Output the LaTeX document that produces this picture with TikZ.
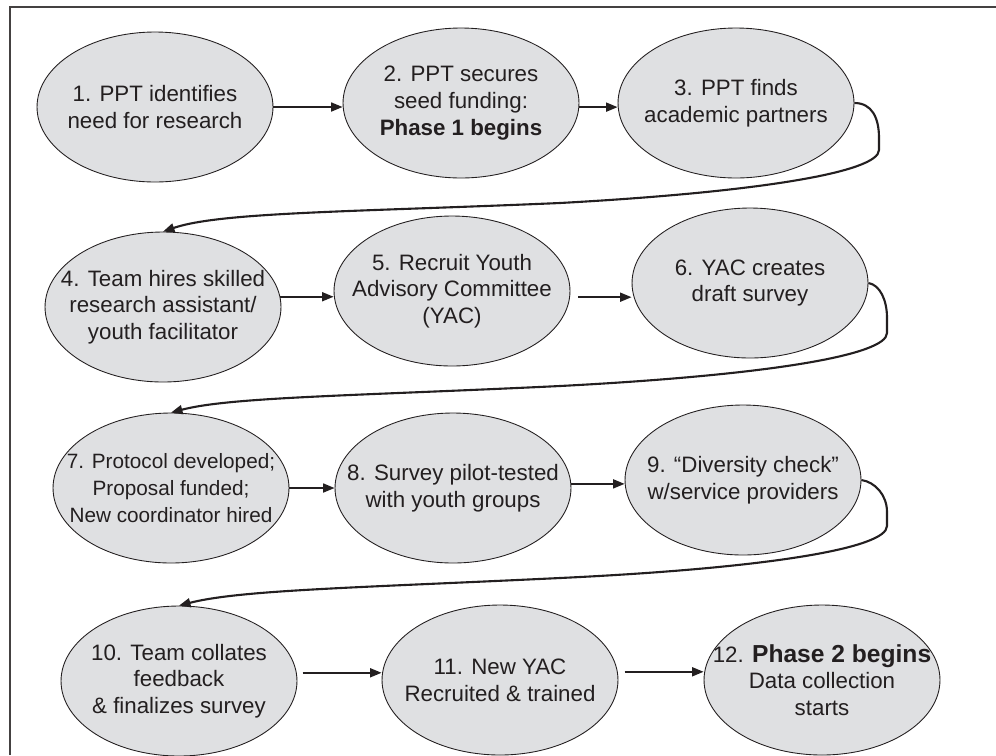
\documentclass[tikz,border=0pt]{standalone}
\usepackage{fontspec}
\setmainfont{Liberation Sans}
\usetikzlibrary{shapes.geometric,arrows.meta}
\definecolor{stagegray}{RGB}{223,224,226}
\definecolor{inkgray}{RGB}{35,31,32}
\begin{document}
\begin{tikzpicture}[x=0.02cm,y=-0.02cm,
  stage/.style={ellipse,draw=inkgray,line width=0.5pt,fill=stagegray,
    minimum width=4.72cm,minimum height=3cm,inner sep=0pt},
  txt/.style={align=center,text=inkgray,inner sep=0pt,
    font=\fontsize{12.7}{15.2}\selectfont},
  flow/.style={-{Triangle[length=2.3mm,width=1.8mm]},line width=1pt,draw=inkgray},
  wrap/.style={flow,line width=1.2pt}]
  \useasboundingbox (0,0) rectangle (996,755);
  \draw[line width=1pt,draw=inkgray!85] (10,755) |- (996,7);
  \node[stage,label={[txt]center:{1. PPT identifies\\need for research}}] (s1) at (155,107) {};
  \node[stage,label={[txt]center:{2. PPT secures\\seed funding:\\\textbf{Phase 1 begins}}}] (s2) at (461,103) {};
  \node[stage,label={[txt]center:{3. PPT finds\\academic partners}}] (s3) at (736,103) {};
  \node[stage,label={[txt]center:{4. Team hires skilled\\research assistant/\\youth facilitator}}] (s4) at (163,307) {};
  \node[stage,label={[txt]center:{5. Recruit Youth\\Advisory Committee\\(YAC)}}] (s5) at (452,291) {};
  \node[stage,label={[txt]center:{6. YAC creates\\draft survey}}] (s6) at (750,283) {};
  \node[stage,label={[txt,font=\fontsize{11.8}{15.2}\selectfont]center:{7. Protocol developed;\\Proposal funded;\\New coordinator hired}}] (s7) at (171,488) {};
  \node[stage,label={[txt]center:{8. Survey pilot-tested\\with youth groups}}] (s8) at (453,488) {};
  \node[stage,label={[txt]center:{9. “Diversity check”\\w/service providers}}] (s9) at (743,480) {};
  \node[stage,label={[txt]center:{10. Team collates\\feedback\\\& finalizes survey}}] (s10) at (179,681) {};
  \node[stage,label={[txt]center:{11. New YAC\\Recruited \& trained}}] (s11) at (500,680) {};
  \node[stage,label={[txt]center:{12. {\fontsize{14}{15.2}\selectfont\bfseries Phase 2 begins}\\Data collection\\starts}}] (s12) at (822,680) {};
  \draw[flow] (s1.east) -- (s1.east -| s2.west);
  \draw[flow] (s2.-2) -- (s2.-2 -| s3.west);
  \draw[flow] (s4.5) -- (s4.5 -| s5.west);
  \draw[flow,shorten <=0.16cm] (s5.-3) -- (s5.-3 -| s6.west);
  \draw[flow] (s7.east) -- (s8.west);
  \draw[flow] (s8.2) -- (s8.2 -| s9.west);
  \draw[flow,shorten <=0.12cm] (s10.4) -- (s10.4 -| s11.west);
  \draw[flow,shorten <=0.14cm] (s11.4) -- (s11.4 -| s12.west);
  \draw[wrap] (s3.east) .. controls (872,103) and (879,118) .. (879,138)
    -- (879,150) .. controls (879,172) and (760,192) .. (560,203)
    .. controls (350,212) and (220,212) .. (s4.north);
  \draw[wrap] (s6.east) .. controls (880,285) and (887,300) .. (887,318)
    -- (887,333) .. controls (887,355) and (770,375) .. (560,386)
    .. controls (350,396) and (230,397) .. (s7.north);
  \draw[wrap] (s9.east) .. controls (875,482) and (887,495) .. (887,512)
    -- (887,526) .. controls (887,548) and (770,568) .. (560,578)
    .. controls (350,588) and (240,590) .. (s10.north);
\end{tikzpicture}
\end{document}
